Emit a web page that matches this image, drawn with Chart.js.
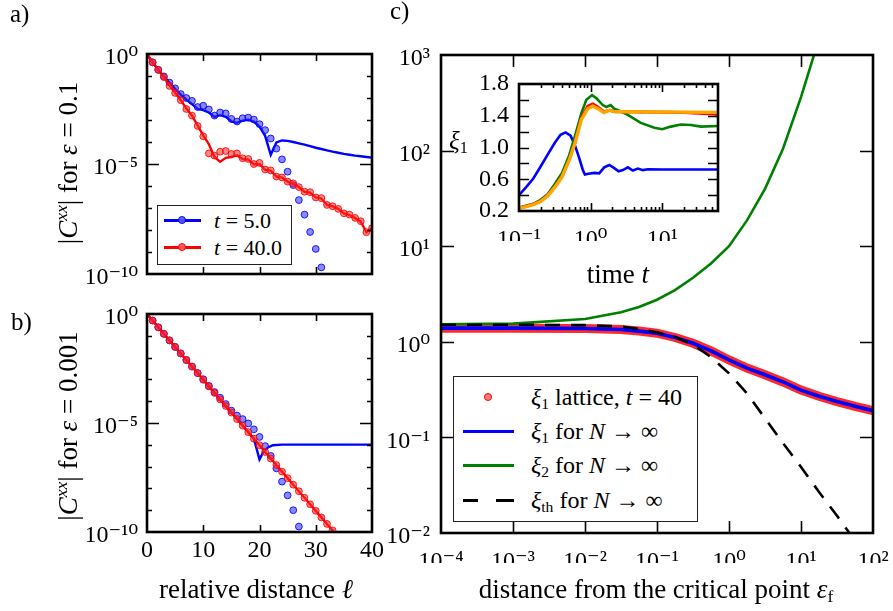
<!DOCTYPE html>
<html lang="en">
<head>
<meta charset="UTF-8">
<title>Correlation lengths after a quench</title>
<script src="https://cdn.jsdelivr.net/npm/chart.js@4.4.1/dist/chart.umd.min.js"></script>
<style>
    html, body { margin:0; padding:0; background:#fff; }
    #page { position:relative; width:893px; height:611px; overflow:hidden;
            font-family:'Liberation Serif', 'DejaVu Serif', serif; color:#000; }
    #page canvas { position:absolute; left:0; top:0; }
    .txt { position:absolute; white-space:nowrap; line-height:1; }
    .ctr { transform:translate(-50%, -50%); }
    .rot { transform:translate(-50%, -50%) rotate(-90deg); }
    sup { font-size:65%; vertical-align:0.55em; line-height:0; }
    sub { font-size:65%; vertical-align:-0.25em; line-height:0; }
    .legend { position:absolute; background:#fff; border:1px solid #222; box-sizing:border-box; }
    .legend .row { position:absolute; left:0; right:0; white-space:nowrap; }
    .legend .sw { position:absolute; }
    .legend .dot { position:absolute; border-radius:50%; box-sizing:border-box; }
    .legend .lab { position:absolute; }
</style>
</head>
<body>
<div id="page">
    <canvas id="chartA" width="893" height="611"></canvas>
    <canvas id="chartB" width="893" height="611"></canvas>
    <!-- a bit wider than the page so the last x label may hang over the edge, as in the original -->
    <canvas id="chartC" width="923" height="611"></canvas>
    <canvas id="chartIn" width="893" height="611"></canvas>

    <!-- panel letters and axis titles -->
    <div class="txt" style="left:10px;top:1px;font-size:25px">a)</div>
    <div class="txt" style="left:11px;top:309px;font-size:25px">b)</div>
    <div class="txt" style="left:390px;top:-2px;font-size:25px">c)</div>

    <div class="txt rot" style="left:68px;top:163px;font-size:27px">|<i>C</i><sup><i>xx</i></sup>| for <i>ε</i> = 0.1</div>
    <div class="txt rot" style="left:68px;top:426px;font-size:27px">|<i>C</i><sup><i>xx</i></sup>| for <i>ε</i> = 0.001</div>
    <div class="txt ctr" style="left:256px;top:589px;font-size:27px">relative distance <i>ℓ</i></div>
    <div class="txt ctr" style="left:656px;top:589px;font-size:27px">distance from the critical point <i>ε</i><sub>f</sub></div>
    <div class="txt ctr" style="left:618px;top:274px;font-size:27px">time <i>t</i></div>
    <div class="txt" style="left:449px;top:128px;font-size:25px"><i>ξ</i><sub>1</sub></div>

    <!-- legend of panel a -->
    <div class="legend" style="left:157px;top:205px;width:135px;height:60px">
        <div class="row" style="top:3px;height:24px">
            <div class="sw" style="left:6px;top:10px;width:37px;height:2.5px;background:#0000ff"></div>
            <div class="dot" style="left:20px;top:7px;width:8px;height:8px;background:rgba(90,90,255,0.9);border:1px solid #0000ff"></div>
            <div class="lab" style="left:56px;top:0;font-size:22px;line-height:24px"><i>t</i> = 5.0</div>
        </div>
        <div class="row" style="top:30px;height:24px">
            <div class="sw" style="left:6px;top:10px;width:37px;height:2.5px;background:#ff0000"></div>
            <div class="dot" style="left:20px;top:7px;width:8px;height:8px;background:rgba(255,90,90,0.9);border:1px solid #ff0000"></div>
            <div class="lab" style="left:56px;top:0;font-size:22px;line-height:24px"><i>t</i> = 40.0</div>
        </div>
    </div>

    <!-- legend of panel c -->
    <div class="legend" style="left:453px;top:376px;width:245px;height:146px">
        <div class="row" style="top:6px;height:28px">
            <div class="dot" style="left:30px;top:10px;width:8px;height:8px;background:#ff7a7a;border:1px solid #ff0000"></div>
            <div class="lab" style="left:77px;top:0;font-size:24px;line-height:28px"><i>ξ</i><sub>1</sub> lattice, <i>t</i> = 40</div>
        </div>
        <div class="row" style="top:40px;height:28px">
            <div class="sw" style="left:9px;top:13px;width:51px;height:3px;background:#0000ff"></div>
            <div class="lab" style="left:77px;top:0;font-size:24px;line-height:28px"><i>ξ</i><sub>1</sub> for <i>N</i> → ∞</div>
        </div>
        <div class="row" style="top:74px;height:28px">
            <div class="sw" style="left:9px;top:13px;width:51px;height:3px;background:#008000"></div>
            <div class="lab" style="left:77px;top:0;font-size:24px;line-height:28px"><i>ξ</i><sub>2</sub> for <i>N</i> → ∞</div>
        </div>
        <div class="row" style="top:109px;height:28px">
            <div class="sw" style="left:9px;top:13px;width:51px;height:3px;background:linear-gradient(to right, #000 0 15px, transparent 15px 33px, #000 33px 51px)"></div>
            <div class="lab" style="left:77px;top:0;font-size:24px;line-height:28px"><i>ξ</i><sub>th</sub> for <i>N</i> → ∞</div>
        </div>
    </div>
</div>

<script>
    // ---------- data (|C|, xi and eps kept as log10 where the axis is log) ----------

    // panel a, eps = 0.1 : log10 |C^xx| against distance l
    const aBlueDotL   = [1,2,3,4,5,6,7,8,9,10,11,12,13,14,15,16,17,18,19,20,21,22,23,24,25,26,27,28,29,30,31];
    const aBlueDotLog = [-0.38,-0.72,-1.02,-1.30,-1.56,-1.82,-2.00,-2.13,-2.41,-2.35,-2.52,-2.80,-2.66,-2.70,-2.95,-3.07,
                         -2.92,-2.89,-2.98,-3.19,-3.46,-3.84,-4.30,-4.79,-5.35,-5.96,-6.64,-7.30,-8.09,-8.86,-9.70];
    const aRedDotL    = [1,2,3,4,5,6,7,8,9,10,11,12,13,14,15,16,17,18,19,20,21,22,23,24,25,26,27,28,29,30,31,32,33,34,35,36,37,38,39,40];
    const aRedDotLog  = [-0.38,-0.72,-1.05,-1.45,-1.77,-2.10,-2.50,-2.80,-3.27,-3.74,-4.52,-4.62,-4.44,-4.41,-4.54,-4.52,
                         -4.74,-4.77,-5.00,-4.95,-5.25,-5.29,-5.57,-5.61,-5.80,-5.88,-6.05,-6.26,-6.28,-6.52,-6.55,-6.86,
                         -6.92,-7.04,-7.24,-7.30,-7.45,-7.60,-8.10,-7.92];
    const aLineL      = [0,1,2,3,4,5,6,7,8,9,10,11,12,13,14,15,16,17,18,19,20,21,22,23,24,25,26,27,28,29,30,31,32,33,34,35,36,37,38,39,40];
    const aBlueLineLog = [0,-0.38,-0.72,-1.02,-1.30,-1.58,-1.85,-2.08,-2.28,-2.50,-2.55,-2.66,-2.86,-2.78,-2.86,-3.06,-3.13,
                          -3.03,-2.99,-3.07,-3.30,-3.72,-4.58,-4.02,-3.93,-3.95,-4.00,-4.06,-4.12,-4.19,-4.26,-4.32,-4.38,
                          -4.44,-4.49,-4.54,-4.58,-4.62,-4.65,-4.68,-4.71];
    const aRedLineLog  = [0,-0.38,-0.72,-1.05,-1.42,-1.76,-2.10,-2.48,-2.80,-3.25,-3.70,-4.10,-4.68,-4.90,-4.72,-4.68,-4.60,
                          -4.78,-4.80,-5.02,-5.00,-5.27,-5.30,-5.57,-5.62,-5.80,-5.90,-6.05,-6.27,-6.30,-6.52,-6.57,-6.86,
                          -6.93,-7.04,-7.25,-7.32,-7.46,-7.62,-8.10,-7.92];

    // panel b, eps = 0.001
    const bRedL      = [0,1,2,3,4,5,6,7,8,9,10,11,12,13,14,15,16,17,18,19,20,21,22,23,24,25,26,27,28,29,30,31,32,33,34];
    const bRedLog    = [0,-0.30,-0.61,-0.91,-1.21,-1.51,-1.81,-2.11,-2.41,-2.71,-3.02,-3.32,-3.62,-3.92,-4.22,-4.52,-4.82,
                        -5.12,-5.42,-5.72,-6.02,-6.33,-6.63,-6.93,-7.23,-7.53,-7.83,-8.13,-8.43,-8.73,-9.03,-9.33,-9.63,-9.93,-10.23];
    const bBlueDotL   = [1,2,3,4,5,6,7,8,9,10,11,12,13,14,15,16,17,18,19,20,21,22,23,24,25,26,27];
    const bBlueDotLog = [-0.30,-0.61,-0.91,-1.21,-1.51,-1.81,-2.11,-2.41,-2.71,-2.99,-3.30,-3.58,-3.84,-4.13,-4.43,-4.66,
                         -4.82,-5.02,-5.29,-5.64,-6.06,-6.51,-7.08,-7.69,-8.32,-9.00,-9.75];
    const bBlueLineL   = [0,1,2,3,4,5,6,7,8,9,10,11,12,13,14,15,16,17,18,19,20,20.7,21.5,22.4,24,28,32,36,40];
    const bBlueLineLog = [0,-0.30,-0.61,-0.91,-1.21,-1.51,-1.81,-2.11,-2.41,-2.71,-3.02,-3.32,-3.62,-3.92,-4.22,-4.52,
                          -4.82,-5.12,-5.42,-5.72,-6.67,-6.32,-6.12,-6.02,-5.99,-5.99,-5.99,-5.99,-5.99];

    // panel c: log10 eps_f against log10 xi
    const cXi1LogEps = [-4,-3,-2,-1.5,-1.25,-1,-0.75,-0.5,-0.25,0,0.25,0.5,0.75,1,1.25,1.5,1.75,2];
    const cXi1Log    = [0.143,0.143,0.139,0.128,0.112,0.09,0.045,-0.015,-0.095,-0.19,-0.275,-0.345,-0.42,-0.505,-0.57,-0.625,-0.675,-0.72];
    const cLatLogEps = [-4,-3,-2,-1.5,-1.25,-1,-0.75,-0.5,-0.25,0,0.25,0.5,0.75,1,1.25,1.5,1.75,2];
    const cLatLog    = [0.143,0.143,0.139,0.128,0.112,0.09,0.045,-0.015,-0.095,-0.19,-0.275,-0.345,-0.42,-0.505,-0.57,-0.625,-0.675,-0.72];
    const cXi2LogEps = [-4,-3,-2,-1.5,-1.25,-1,-0.75,-0.5,-0.25,0,0.25,0.5,0.75,1,1.25];
    const cXi2Log    = [0.183,0.19,0.238,0.31,0.365,0.44,0.54,0.67,0.82,1.0,1.27,1.6,2.02,2.56,3.17];
    const cThLogEps  = [-4,-3,-2,-1.5,-1.25,-1,-0.75,-0.5,-0.25,0,0.25,0.5,0.75,1,1.25,1.5,1.75];
    const cThLog     = [0.178,0.178,0.174,0.16,0.135,0.1,0.05,-0.03,-0.16,-0.33,-0.54,-0.8,-1.06,-1.31,-1.57,-1.82,-2.08];

    // inset: log10 t against xi_1
    const inBlueLogT = [-1,-0.9,-0.8,-0.7,-0.6,-0.5,-0.42,-0.35,-0.28,-0.22,-0.16,-0.11,-0.08,-0.03,0.05,0.12,0.19,0.26,0.33,0.39,0.45,0.52,0.59,0.66,0.73,0.8,1.0,1.4,1.78];
    const inBlue     = [0.40,0.50,0.61,0.757,0.91,1.06,1.16,1.19,1.15,1.03,0.87,0.72,0.66,0.67,0.68,0.675,0.75,0.78,0.74,0.70,0.715,0.75,0.71,0.735,0.715,0.725,0.722,0.722,0.722];
    const inGreenLogT = [-1,-0.9,-0.8,-0.7,-0.6,-0.5,-0.4,-0.3,-0.22,-0.13,-0.06,0.02,0.08,0.17,0.22,0.28,0.33,0.43,0.52,0.7,0.89,1.0,1.12,1.26,1.4,1.54,1.78];
    const inGreen     = [0.242,0.265,0.29,0.34,0.41,0.54,0.68,0.9,1.14,1.43,1.6,1.66,1.62,1.535,1.51,1.535,1.49,1.45,1.41,1.31,1.25,1.23,1.263,1.29,1.284,1.263,1.27];
    const inOrangeLogT = [-1,-0.9,-0.8,-0.7,-0.6,-0.5,-0.4,-0.3,-0.22,-0.13,-0.04,0.03,0.1,0.185,0.264,0.333,0.47,1.0,1.78];
    const inOrange     = [0.234,0.255,0.28,0.32,0.39,0.50,0.63,0.84,1.05,1.35,1.49,1.52,1.49,1.44,1.47,1.45,1.45,1.447,1.443];
    const inRedLogT = [-1,-0.9,-0.8,-0.7,-0.6,-0.5,-0.4,-0.3,-0.22,-0.13,-0.04,0.03,0.1,0.185,0.264,0.333,0.47,1.0,1.3,1.78];
    const inRed     = [0.238,0.26,0.285,0.325,0.395,0.505,0.635,0.845,1.06,1.37,1.52,1.55,1.51,1.45,1.47,1.455,1.45,1.445,1.44,1.42];

    // tick values
    const abYTicks = [1e-10, 1e-5, 1];
    const bXTicks = [0, 10, 20, 30, 40];
    const cXTicks = [1e-4, 1e-3, 1e-2, 1e-1, 1, 10, 100];
    const cYTicks = [1e-2, 1e-1, 1, 10, 100, 1000];
    const inXTicks = [0.1, 1, 10];
    const inYTicks = [0.2, 0.6, 1.0, 1.4, 1.8];

    // ---------- helpers ----------
    const SERIF = "'Liberation Serif', 'DejaVu Serif', serif";
    Chart.defaults.font.family = SERIF;
    Chart.defaults.font.size = 24;
    Chart.defaults.color = '#000';
    const tickFont = { family: SERIF, size: 24 };

    const SUPS = {'-':'\u207B','0':'\u2070','1':'\u00B9','2':'\u00B2','3':'\u00B3','4':'\u2074',
                  '5':'\u2075','6':'\u2076','7':'\u2077','8':'\u2078','9':'\u2079'};
    function powLabel(v) {
        const e = Math.round(Math.log10(v));
        return '10' + String(e).split('').map(c => SUPS[c]).join('');
    }
    const e10 = v => Math.pow(10, v);
    function pts(xs, ys, fx, fy) {
        return xs.map((x, i) => ({ x: fx ? fx(x) : x, y: fy ? fy(ys[i]) : ys[i] }));
    }
    const fixTicks = vals => scale => { scale.ticks = vals.map(v => ({ value: v })); };

    // frame + inward ticks on all four sides, like the matplotlib original
    const frameTicks = {
        id: 'frameTicks',
        beforeDatasetsDraw(chart, args, opts) {
            if (!opts.fill) return;
            const a = chart.chartArea, ctx = chart.ctx;
            ctx.save();
            ctx.fillStyle = '#fff';
            ctx.fillRect(a.left, a.top, a.right - a.left, a.bottom - a.top);
            ctx.restore();
        },
        afterDraw(chart, args, opts) {
            const { ctx, chartArea: a, scales } = chart;
            ctx.save();
            ctx.strokeStyle = '#000';
            ctx.lineWidth = 1.6;
            ctx.beginPath();
            (opts.x || []).forEach(([v, len]) => {
                const px = Math.round(scales.x.getPixelForValue(v)) + 0.5;
                ctx.moveTo(px, a.bottom); ctx.lineTo(px, a.bottom - len);
                ctx.moveTo(px, a.top); ctx.lineTo(px, a.top + len);
            });
            (opts.y || []).forEach(([v, len]) => {
                const py = Math.round(scales.y.getPixelForValue(v)) + 0.5;
                ctx.moveTo(a.left, py); ctx.lineTo(a.left + len, py);
                ctx.moveTo(a.right, py); ctx.lineTo(a.right - len, py);
            });
            ctx.stroke();
            ctx.lineWidth = opts.border || 2.6;
            ctx.strokeRect(a.left, a.top, a.right - a.left, a.bottom - a.top);
            ctx.restore();
        }
    };

    // nudge the layout padding until the plot area sits where the original frame is
    function pinArea(chart, target) {
        for (let i = 0; i < 4; i++) {
            const a = chart.chartArea;
            const p = chart.config.options.layout.padding;
            const next = {
                left: p.left + (target.left - a.left),
                top: p.top + (target.top - a.top),
                right: p.right + (a.right - target.right),
                bottom: p.bottom + (a.bottom - target.bottom)
            };
            if (next.left === p.left && next.top === p.top && next.right === p.right && next.bottom === p.bottom) break;
            chart.config.options.layout.padding = next;
            chart.update();
        }
    }

    function lineSet(data, color, width, order, extra) {
        return Object.assign({ data: data, borderColor: color, borderWidth: width, pointRadius: 0,
                               tension: 0, fill: false, order: order }, extra || {});
    }
    function dotSet(data, fill, edge, order) {
        return { data: data, showLine: false, pointRadius: 3.4, pointBackgroundColor: fill,
                 pointBorderColor: edge, pointBorderWidth: 1, order: order };
    }
    function baseOptions(padding, scales, ticks) {
        return {
            responsive: false, animation: false, devicePixelRatio: 1,
            layout: { padding: padding },
            plugins: { legend: { display: false }, tooltip: { enabled: false }, frameTicks: ticks },
            scales: scales,
            events: []
        };
    }
    const noGrid = { display: false, drawTicks: false };

    // ---------- panel a ----------
    const decadeTicks = [];
    for (let k = -9; k <= -1; k++) decadeTicks.push([e10(k), k === -5 ? 12 : 5]);

    const chartA = new Chart(document.getElementById('chartA'), {
        type: 'line',
        data: { datasets: [
            lineSet(pts(aLineL, aBlueLineLog, null, e10), '#0000ff', 2.4, 4),
            dotSet(pts(aBlueDotL, aBlueDotLog, null, e10), 'rgba(40,40,255,0.55)', 'rgba(0,0,255,0.85)', 3),
            lineSet(pts(aLineL, aRedLineLog, null, e10), '#ff0000', 2.4, 2),
            dotSet(pts(aRedDotL, aRedDotLog, null, e10), 'rgba(255,40,40,0.55)', 'rgba(255,0,0,0.85)', 1)
        ]},
        options: baseOptions({ left: 87, top: 54, right: 521, bottom: 337 }, {
            x: { type: 'linear', min: 0, max: 40, display: false },
            y: { type: 'logarithmic', min: 1e-10, max: 1, afterBuildTicks: fixTicks(abYTicks),
                 afterFit: s => { s.width = 60; },
                 grid: noGrid, border: { display: false },
                 ticks: { font: tickFont, padding: 9, labelOffset: 4, autoSkip: false, callback: v => powLabel(v) } }
        }, { x: [[10, 7], [20, 7], [30, 7]], y: decadeTicks }),
        plugins: [frameTicks]
    });
    pinArea(chartA, { left: 147, top: 54, right: 372, bottom: 274 });

    // ---------- panel b ----------
    const chartB = new Chart(document.getElementById('chartB'), {
        type: 'line',
        data: { datasets: [
            lineSet(pts(bBlueLineL, bBlueLineLog, null, e10), '#0000ff', 2.4, 4),
            dotSet(pts(bBlueDotL, bBlueDotLog, null, e10), 'rgba(40,40,255,0.55)', 'rgba(0,0,255,0.85)', 3),
            lineSet(pts(bRedL, bRedLog, null, e10), '#ff0000', 2.4, 2),
            dotSet(pts(bRedL.slice(1), bRedLog.slice(1), null, e10), 'rgba(255,40,40,0.55)', 'rgba(255,0,0,0.85)', 1)
        ]},
        options: baseOptions({ left: 87, top: 314, right: 521, bottom: 49 }, {
            x: { type: 'linear', min: 0, max: 40, afterBuildTicks: fixTicks(bXTicks),
                 afterFit: s => { s.height = 30; },
                 grid: noGrid, border: { display: false },
                 ticks: { font: tickFont, padding: 4, maxRotation: 0, autoSkip: false } },
            y: { type: 'logarithmic', min: 1e-10, max: 1, afterBuildTicks: fixTicks(abYTicks),
                 afterFit: s => { s.width = 60; },
                 grid: noGrid, border: { display: false },
                 ticks: { font: tickFont, padding: 9, labelOffset: 4, autoSkip: false, callback: v => powLabel(v) } }
        }, { x: [[10, 7], [20, 7], [30, 7]], y: decadeTicks }),
        plugins: [frameTicks]
    });
    pinArea(chartB, { left: 147, top: 314, right: 372, bottom: 532 });

    // ---------- panel c ----------
    const chartC = new Chart(document.getElementById('chartC'), {
        type: 'line',
        data: { datasets: [
            lineSet(pts(cLatLogEps, cLatLog, e10, e10), 'rgba(255,30,30,0.95)', 9, 4),
            lineSet(pts(cXi1LogEps, cXi1Log, e10, e10), '#0000ff', 3.6, 3),
            lineSet(pts(cXi2LogEps, cXi2Log, e10, e10), '#008000', 2.6, 2),
            lineSet(pts(cThLogEps, cThLog, e10, e10), '#000000', 2.6, 1, { borderDash: [15, 11] })
        ]},
        options: baseOptions({ left: 381, top: 55, right: 50, bottom: 48 }, {
            x: { type: 'logarithmic', min: 1e-4, max: 100, afterBuildTicks: fixTicks(cXTicks),
                 afterFit: s => { s.height = 30; },
                 grid: noGrid, border: { display: false },
                 ticks: { font: tickFont, padding: 14, maxRotation: 0, autoSkip: false, callback: v => powLabel(v) } },
            y: { type: 'logarithmic', min: 1e-2, max: 1000, afterBuildTicks: fixTicks(cYTicks),
                 afterFit: s => { s.width = 60; },
                 grid: noGrid, border: { display: false },
                 ticks: { font: tickFont, padding: 11, labelOffset: 4, autoSkip: false, callback: v => powLabel(v) } }
        }, { x: [[1e-3, 12], [1e-2, 12], [1e-1, 12], [1, 12], [10, 12]],
             y: [[1e-1, 13], [1, 13], [10, 13], [100, 13]] }),
        plugins: [frameTicks]
    });
    pinArea(chartC, { left: 441, top: 55, right: 873, bottom: 533 });

    // ---------- inset ----------
    const inXMarks = [[1, 8], [10, 8]];
    [0.2,0.3,0.4,0.5,0.6,0.7,0.8,0.9,2,3,4,5,6,7,8,9,20,30,40,50].forEach(v => inXMarks.push([v, 4]));
    const inYMarks = [0.4, 0.6, 0.8, 1.0, 1.2, 1.4, 1.6].map(v => [v, 10]);

    const chartIn = new Chart(document.getElementById('chartIn'), {
        type: 'line',
        data: { datasets: [
            lineSet(pts(inBlueLogT, inBlue, e10), '#0000ff', 2.6, 4),
            lineSet(pts(inGreenLogT, inGreen, e10), '#008000', 2.6, 3),
            lineSet(pts(inRedLogT, inRed, e10), '#ff0000', 3, 2),
            lineSet(pts(inOrangeLogT, inOrange, e10), '#ffa500', 3.4, 1)
        ]},
        options: baseOptions({ left: 469, top: 84, right: 175, bottom: 370 }, {
            x: { type: 'logarithmic', min: 0.1, max: 60, afterBuildTicks: fixTicks(inXTicks),
                 afterFit: s => { s.height = 30; },
                 grid: noGrid, border: { display: false },
                 ticks: { font: tickFont, padding: 14, maxRotation: 0, autoSkip: false, callback: v => powLabel(v) } },
            y: { type: 'linear', min: 0.2, max: 1.8, afterBuildTicks: fixTicks(inYTicks),
                 afterFit: s => { s.width = 50; },
                 grid: noGrid, border: { display: false },
                 ticks: { font: tickFont, padding: 10, autoSkip: false, callback: v => v.toFixed(1) } }
        }, { x: inXMarks, y: inYMarks, fill: true }),
        plugins: [frameTicks]
    });
    pinArea(chartIn, { left: 519, top: 84, right: 718, bottom: 211 });
</script>
</body>
</html>
